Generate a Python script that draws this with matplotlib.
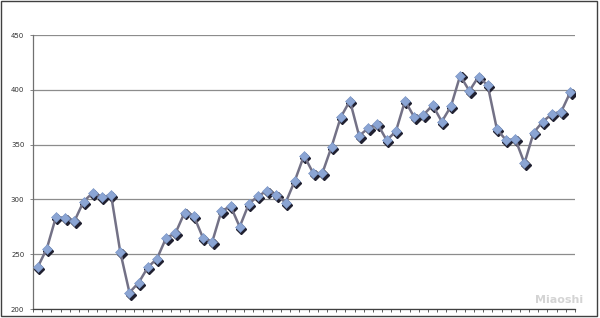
import numpy as np
import matplotlib.pyplot as plt
import matplotlib.transforms as mtransforms
from matplotlib.patches import Rectangle

# 数据
values = [238, 255, 284, 283, 280, 298, 306, 302, 304, 252,
          215, 224, 238, 246, 265, 269, 288, 285, 265, 261,
          289, 294, 275, 296, 303, 308, 304, 297, 317, 340,
          324, 324, 348, 375, 390, 358, 365, 369, 354, 362,
          390, 375, 377, 386, 371, 385, 413, 399, 412, 404,
          364, 354, 355, 333, 361, 371, 378, 380, 398]
y_ticks = [200, 250, 300, 350, 400, 450]

W, H = 600, 318
fig = plt.figure(figsize=(W / 100, H / 100), dpi=100)
ax = fig.add_axes([33 / W, 9 / H, 542 / W, 274 / H])

x = np.arange(len(values))

# 网格线
ax.set_ylim(200, 450)
ax.set_xlim(-0.5, len(values) - 0.5)
ax.set_yticks(y_ticks)
ax.yaxis.grid(True, color='#8c8c8c', linewidth=0.9)
ax.set_axisbelow(True)

# 阴影 + 折线 + 菱形标记
shadow = mtransforms.offset_copy(ax.transData, fig=fig, x=1.0, y=-1.4, units='points')
ax.plot(x, values, linestyle='none', marker='D', markersize=5.0,
        color='#202030', transform=shadow, zorder=2)
ax.plot(x, values, color='#737186', linewidth=1.8, zorder=3)
ax.plot(x, values, linestyle='none', marker='D', markersize=5.0,
        markerfacecolor='#8ba5d4', markeredgecolor='#7590c0',
        markeredgewidth=0.4, zorder=4)

# 坐标轴
for side in ['top', 'right']:
    ax.spines[side].set_visible(False)
ax.spines['left'].set_color('#707070')
ax.spines['bottom'].set_color('#404040')
ax.spines['left'].set_linewidth(0.9)
ax.spines['bottom'].set_linewidth(0.9)

ax.set_xticks(np.arange(-0.5, len(values), 1.0))
ax.set_xticklabels([])
ax.tick_params(axis='x', direction='out', length=2.5, width=0.6, color='#404040')
ax.tick_params(axis='y', direction='out', length=2.2, width=0.6, color='#707070',
               labelsize=5, labelcolor='#303030', pad=4)

# 水印
fig.text(583 / W, 13 / H, 'Miaoshi', ha='right', va='bottom', fontsize=8,
         fontweight='bold', color='#d4d4d4')

# 外框
fig.patches.append(Rectangle((1 / W, 2 / H), 596 / W, 315 / H, transform=fig.transFigure,
                             fill=False, edgecolor='#404040', linewidth=1.0))

fig.savefig('out.png', dpi=100)
